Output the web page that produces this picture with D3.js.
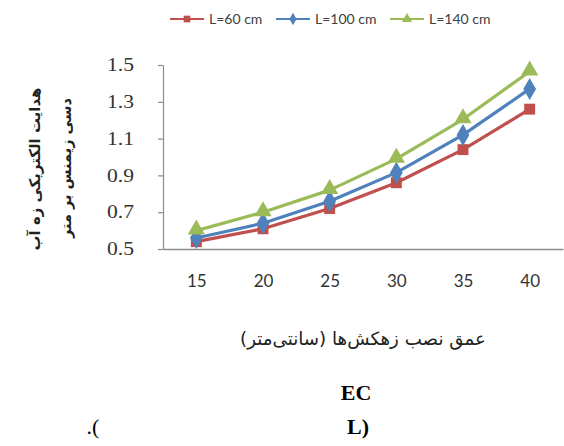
<!DOCTYPE html>
<html><head><meta charset="utf-8">
<script src="https://cdn.jsdelivr.net/npm/d3@7"></script>
<style>body{margin:0;background:#fff}svg{display:block}</style>
</head><body>
<svg id="c" width="564" height="446"></svg>
<script>
const depths = [15, 20, 25, 30, 35, 40];
const yTicks = [0.5, 0.7, 0.9, 1.1, 1.3, 1.5];
const seriesNames = ["L=60 cm", "L=100 cm", "L=140 cm"];
const L60 = [0.54, 0.61, 0.72, 0.86, 1.04, 1.26];
const L100 = [0.56, 0.64, 0.76, 0.915, 1.12, 1.37];
const L140 = [0.60, 0.70, 0.82, 0.99, 1.205, 1.465];
const xTitle = "عمق نصب زهکش‌ها (سانتی‌متر)";
const yTitle1 = "هدایت الکتریکی زه آب";
const yTitle2 = "دسی زیمنس بر متر";

const colors = ["#C0504D", "#4F81BD", "#9BBB59"];
const symbols = [d3.symbolSquare, d3.symbolDiamond, d3.symbolTriangle];
const seriesVals = [L60, L100, L140];

const svg = d3.select("#c");
const x = d3.scalePoint().domain(depths).range([163, 563]).padding(0.5);
const y = d3.scaleLinear().domain([0.5, 1.5]).range([249, 65]);

// y axis
const ya = svg.append("g").attr("transform", "translate(163,0)")
  .call(d3.axisLeft(y).tickValues(yTicks).tickFormat(d3.format(".1f")).tickSizeInner(5).tickSizeOuter(0).tickPadding(24));
ya.selectAll("path,line").attr("stroke", "#8c8c8c").attr("stroke-width", 1.2);
ya.selectAll("text").attr("font-family", "'Liberation Serif', serif").attr("font-size", 18).attr("fill", "#333")
  .attr("x", 0).attr("transform", "translate(-29,0) scale(1.2,1)");

// x axis
const xa = svg.append("g").attr("transform", "translate(0,249)")
  .call(d3.axisBottom(x).tickSize(0).tickPadding(26));
xa.selectAll("path").attr("stroke", "#8c8c8c").attr("stroke-width", 1.5);
xa.selectAll("text").attr("font-family", "Lato, sans-serif").attr("font-size", 17).attr("fill", "#333");

// lines
const line = d3.line().x((d, i) => x(depths[i])).y(d => y(d));
seriesVals.forEach((vals, s) => {
  svg.append("path").datum(vals).attr("d", line).attr("fill", "none")
    .attr("stroke", colors[s]).attr("stroke-width", 3.2).attr("stroke-linejoin", "round");
});
const msize = [120, 140, 130];
seriesVals.forEach((vals, s) => {
  svg.append("g").selectAll("path").data(vals).join("path")
    .attr("d", d3.symbol().type(symbols[s]).size(msize[s]))
    .attr("transform", (d, i) => `translate(${x(depths[i])},${y(d) - (s === 2 ? 1 : 0)})`)
    .attr("fill", colors[s]);
});

// legend
const legX = [170, 276, 390];
const lg = svg.append("g");
seriesNames.forEach((n, s) => {
  const g = lg.append("g").attr("transform", `translate(${legX[s]},19)`);
  g.append("line").attr("x1", 0).attr("x2", 34).attr("stroke", colors[s]).attr("stroke-width", 1.8);
  g.append("path").attr("d", d3.symbol().type(symbols[s]).size(45)).attr("transform", "translate(17,0)").attr("fill", colors[s]);
  g.append("text").attr("x", 39).attr("y", 5).text(n)
    .attr("font-family", "Lato, sans-serif").attr("font-size", 14).attr("fill", "#404040");
});

// axis titles
function fit(t, w) {
  const l = t.node().getComputedTextLength();
  const fs = +t.attr("font-size");
  t.attr("font-size", fs * w / l);
}
const xt = svg.append("text").attr("x", 363).attr("y", 345).attr("text-anchor", "middle")
  .attr("direction", "rtl").attr("font-family", "'DejaVu Sans', sans-serif").attr("font-size", 16).attr("fill", "#222")
  .style("unicode-bidi", "plaintext").text(xTitle);
fit(xt, 246);

const yt1 = svg.append("text").attr("transform", "translate(40,169) rotate(-90)").attr("text-anchor", "middle")
  .attr("font-family", "'DejaVu Sans', sans-serif").attr("font-weight", "bold").attr("font-size", 14).attr("fill", "#222").text(yTitle1);
fit(yt1, 163);
const yt2 = svg.append("text").attr("transform", "translate(71,168) rotate(-90)").attr("text-anchor", "middle")
  .attr("font-family", "'DejaVu Sans', sans-serif").attr("font-weight", "bold").attr("font-size", 14).attr("fill", "#222").text(yTitle2);
fit(yt2, 140);

// caption fragments
svg.append("text").attr("x", 356).attr("y", 400).attr("text-anchor", "middle")
  .attr("font-family", "'Liberation Serif', serif").attr("font-weight", "bold").attr("font-size", 22).attr("fill", "#000").text("EC");
svg.append("text").attr("x", 358).attr("y", 434).attr("text-anchor", "middle").attr("direction", "ltr")
  .attr("font-family", "'Liberation Serif', serif").attr("font-weight", "bold").attr("font-size", 22).attr("fill", "#000").text("L)");
svg.append("text").attr("x", 93).attr("y", 434).attr("text-anchor", "middle").attr("direction", "ltr")
  .attr("font-family", "'Liberation Serif', serif").attr("font-size", 22).attr("fill", "#000").text(".(");
</script>
</body></html>
